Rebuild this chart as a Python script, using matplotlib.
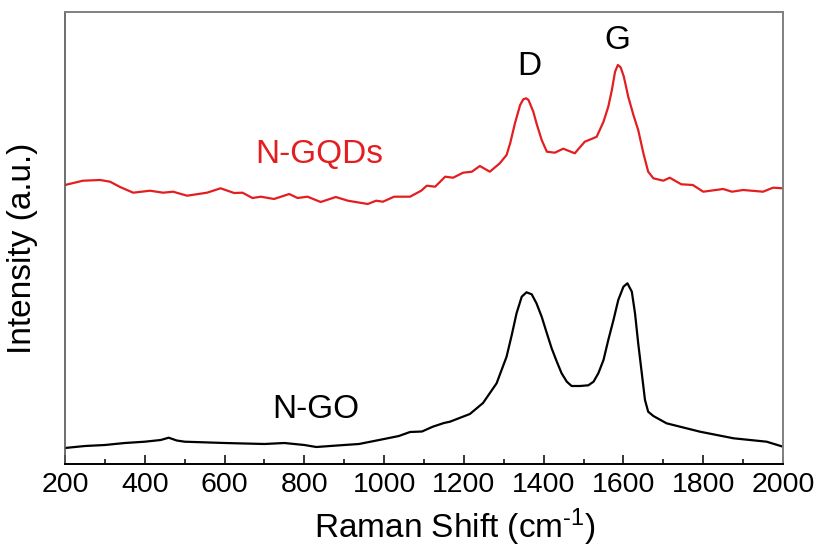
import numpy as np
import matplotlib
matplotlib.use("Agg")
import matplotlib.pyplot as plt
from matplotlib.ticker import MultipleLocator

plt.rcParams['font.family'] = ['Liberation Sans', 'DejaVu Sans']
plt.rcParams['mathtext.fontset'] = 'custom'
plt.rcParams['mathtext.rm'] = 'Liberation Sans'
plt.rcParams['mathtext.default'] = 'regular'

# N-GO spectrum (black)
ngo_shift = [200, 250, 300, 350, 400, 440, 460, 480, 500, 600, 700, 750, 800, 830,
             900, 937, 1000, 1037, 1065, 1095, 1122, 1150, 1165, 1215, 1248, 1282,
             1307, 1320, 1332, 1345, 1357, 1370, 1382, 1395, 1408, 1420, 1433, 1445,
             1458, 1470, 1491, 1512, 1525, 1537, 1550, 1562, 1575, 1587, 1600, 1610,
             1621, 1629, 1637, 1646, 1654, 1662, 1675, 1708, 1792, 1876, 1959, 2000]
ngo_int = [16, 18, 19, 21, 22.3, 24, 26.3, 23.5, 22.3, 21, 20, 21, 19, 17,
           19, 20, 25, 28, 32, 32.5, 37.3, 41, 42.3, 50, 61, 80.7,
           107.3, 129, 150.7, 167.3, 171.7, 169.7, 160.7, 147.3, 130.7, 115.7, 102.3, 90.7,
           82.3, 78, 78, 78.7, 82.3, 90.7, 104, 124, 144, 164, 177.3, 180.7,
           172.3, 150.7, 120.7, 90.7, 64, 52.3, 48, 40.7, 32.3, 25.7, 22.3, 17.3]

# N-GQDs spectrum (red)
gqd_shift = [200, 245, 288, 313, 338, 371, 413, 446, 471, 506, 556, 590, 624, 645,
             670, 691, 724, 762, 783, 808, 841, 879, 909, 959, 980, 997, 1025, 1040,
             1065, 1093, 1107, 1128, 1153, 1173, 1198, 1220, 1240, 1265, 1290, 1307,
             1316, 1328, 1341, 1349, 1356, 1362, 1374, 1382, 1395, 1408, 1428, 1449,
             1478, 1503, 1524, 1533, 1550, 1562, 1571, 1579, 1586, 1593, 1601, 1612,
             1625, 1637, 1650, 1662, 1675, 1700, 1716, 1745, 1774, 1800, 1850, 1872,
             1900, 1950, 1975, 2000]
gqd_int = [279, 283.3, 284, 282.3, 277, 271.3, 273.3, 271.3, 272.3, 268.3, 271.3, 275.7, 271, 271.3,
           266, 267.3, 265, 270, 266, 267.3, 262, 267, 263.3, 260, 263.3, 262.3, 267.3, 267.3,
           267.3, 273.3, 278.3, 277.3, 287.3, 286.3, 291.3, 292.3, 298, 292.3, 300.7, 309,
           320.7, 340.7, 359, 364.7, 365.7, 364, 352.3, 340.7, 324, 312.3, 311.3, 315.3,
           310.7, 322.3, 325.7, 327.3, 342.3, 357.3, 374, 392.3, 399, 396.7, 387.3, 367.3,
           349, 334, 310.7, 292.3, 285.7, 283.3, 286.3, 279.7, 279, 272.3, 275, 272.3,
           274, 272.3, 276.3, 275.7]

red = '#e41e20'

fig = plt.figure(figsize=(8.22, 5.5), dpi=100)
ax = fig.add_axes([65/822, 1-464/550, 718/822, 452/550])

ax.plot(ngo_shift, ngo_int, color='black', lw=1.6)
ax.plot(gqd_shift, gqd_int, color=red, lw=1.6)

ax.set_xlim(200, 2000)
ax.set_ylim(0, 452)
ax.xaxis.set_major_locator(MultipleLocator(200))
ax.xaxis.set_minor_locator(MultipleLocator(100))
ax.tick_params(axis='x', which='major', direction='in', length=6.5, width=1.1,
               labelsize=20.5, pad=5.5)
ax.tick_params(axis='x', which='minor', direction='in', length=3.6, width=1.1)
ax.tick_params(axis='y', left=False, labelleft=False)

ax.spines['bottom'].set_linewidth(1.4)
ax.spines['bottom'].set_color('black')
ax.spines['left'].set_color('#555555')
ax.spines['left'].set_linewidth(1.2)
for s in ['top', 'right']:
    ax.spines[s].set_color('#808080')
    ax.spines[s].set_linewidth(1.4)

ax.set_xlabel(r'Raman Shift (cm$^{\text{-}1}$)', fontsize=24)
ax.xaxis.set_label_coords(0.543, -0.093)
ax.set_ylabel('Intensity (a.u.)', fontsize=24)
ax.yaxis.set_label_coords(-0.0376, 0.478)

ax.text(676, 301, 'N-GQDs', color=red, fontsize=24, ha='left', va='baseline')
ax.text(719, 46, 'N-GO', color='black', fontsize=24, ha='left', va='baseline')
ax.text(1363, 389, 'D', color='black', fontsize=24, ha='center', va='baseline')
ax.text(1585, 415, 'G', color='black', fontsize=24, ha='center', va='baseline')

fig.savefig('out.png', dpi=100)
